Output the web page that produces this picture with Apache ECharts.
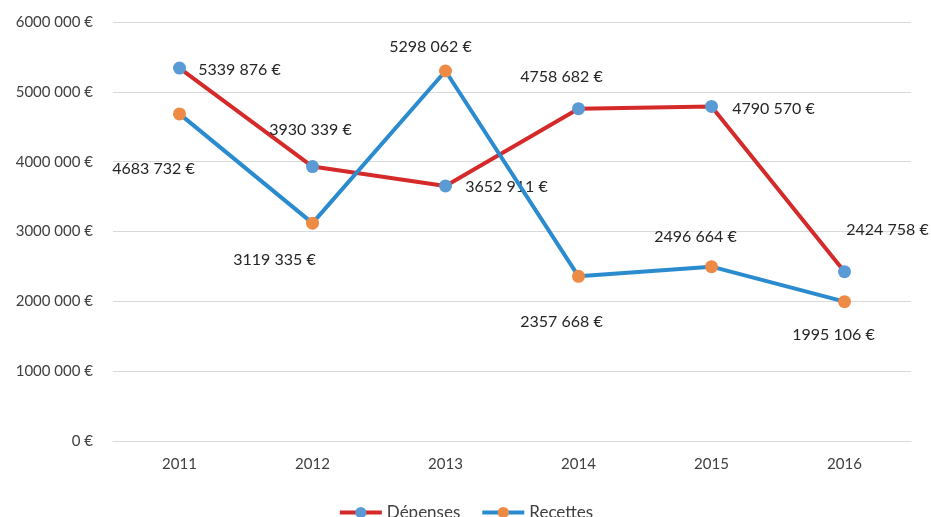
<!DOCTYPE html>
<html>
<head>
<meta charset="utf-8">
<script src="https://cdn.jsdelivr.net/npm/echarts@6/dist/echarts.min.js"></script>
<style>
  html, body { margin: 0; padding: 0; background: #fff; }
  #chart { width: 931px; height: 517px; }
</style>
</head>
<body>
<div id="chart"></div>
<script>
const years = ['2011', '2012', '2013', '2014', '2015', '2016'];
const depenses = [5339876, 3930339, 3652911, 4758682, 4790570, 2424758];
const recettes = [4683732, 3119335, 5298062, 2357668, 2496664, 1995106];

// label centre relative to its point, in px
const depensesOffsets = [[60, 2], [-2, -37], [61, 1], [-17, -32], [62, 2], [43, -42]];
const recettesOffsets = [[-26, 55], [-38, 37], [-15, -24], [-17, 45], [-16, -30], [-11, 33]];

// "5339 876 €" style
function euro(v) {
    if (v === 0) return '0 €';
    const k = Math.floor(v / 1000);
    const r = String(v % 1000).padStart(3, '0');
    return k + ' ' + r + ' €';
}

function withLabels(values, offsets) {
    return values.map((v, i) => ({
        value: v,
        label: {
            show: true,
            position: 'inside',
            offset: offsets[i],
            formatter: p => euro(p.value),
            fontFamily: 'Lato',
            fontSize: 16,
            color: '#262626'
        }
    }));
}

const chart = echarts.init(document.getElementById('chart'));

chart.setOption({
    animation: false,
    grid: { left: 113, right: 20, top: 22, bottom: 76 },
    xAxis: {
        type: 'category',
        data: years,
        boundaryGap: true,
        axisTick: { show: false },
        axisLine: { lineStyle: { color: '#d9d9d9', width: 1 } },
        axisLabel: { fontFamily: 'Lato', fontSize: 15, color: '#404040', margin: 16 }
    },
    yAxis: {
        type: 'value',
        min: 0,
        max: 6000000,
        interval: 1000000,
        axisLine: { show: false },
        axisTick: { show: false },
        splitLine: { lineStyle: { color: '#d9d9d9', width: 1 } },
        axisLabel: {
            fontFamily: 'Lato', fontSize: 15, color: '#404040', margin: 20,
            formatter: v => euro(v)
        }
    },
    legend: {
        top: 499,
        left: 'center',
        itemWidth: 42,
        itemHeight: 14,
        itemGap: 20,
        lineStyle: { width: 4 },
        textStyle: { fontFamily: 'Lato', fontSize: 17, color: '#404040' },
        data: ['Dépenses', 'Recettes']
    },
    series: [
        {
            name: 'Dépenses',
            type: 'line',
            data: withLabels(depenses, depensesOffsets),
            symbol: 'circle',
            symbolSize: 13,
            lineStyle: { color: '#d42a2a', width: 4 },
            itemStyle: { color: '#5b9bd5', borderWidth: 0 },
            z: 2
        },
        {
            name: 'Recettes',
            type: 'line',
            data: withLabels(recettes, recettesOffsets),
            symbol: 'circle',
            symbolSize: 13,
            lineStyle: { color: '#2a8bcf', width: 4 },
            itemStyle: { color: '#ed8a45', borderWidth: 0 },
            z: 3
        }
    ]
});
</script>
</body>
</html>
